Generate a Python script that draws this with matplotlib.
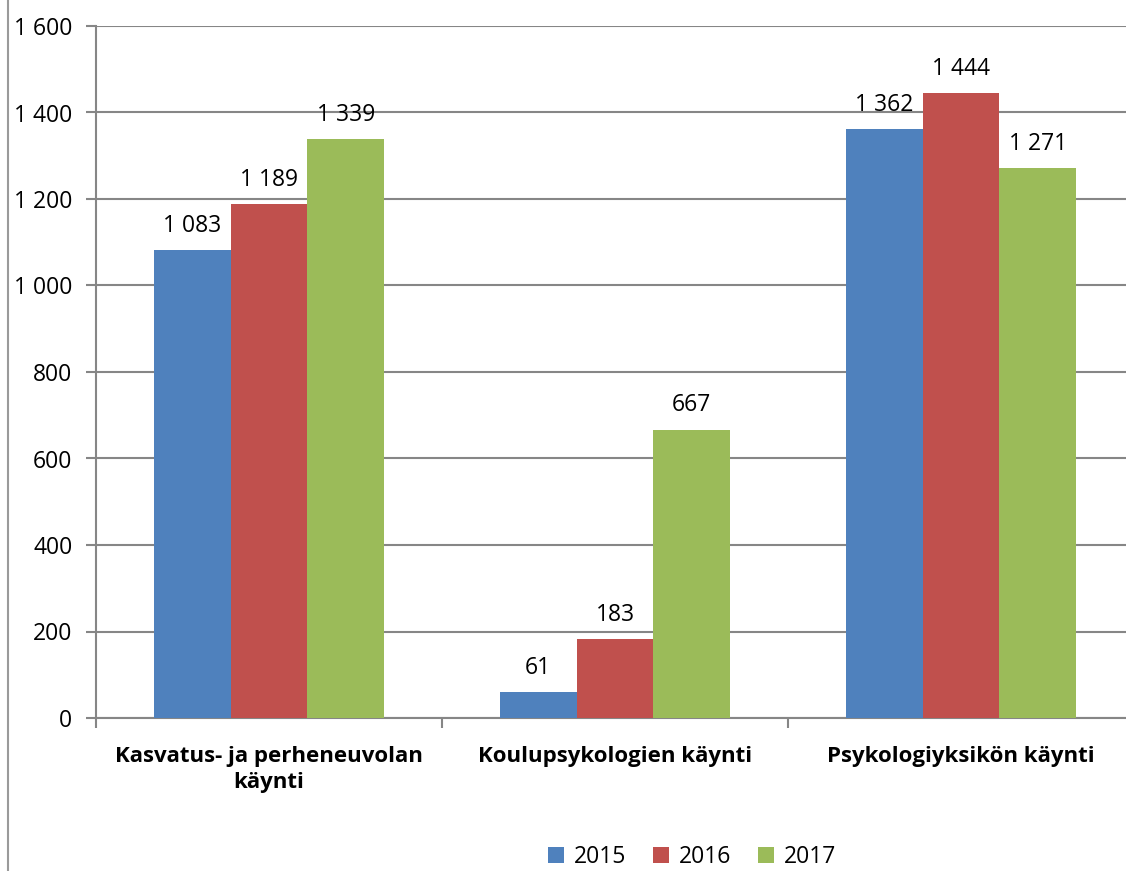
import numpy as np
import matplotlib.pyplot as plt
from matplotlib.lines import Line2D

plt.rcParams['font.family'] = ['Open Sans', 'DejaVu Sans']

categories = ['Kasvatus- ja perheneuvolan\nkäynti', 'Koulupsykologien käynti', 'Psykologiyksikön käynti']
years = ['2015', '2016', '2017']
v2015 = [1083, 61, 1362]
v2016 = [1189, 183, 1444]
v2017 = [1339, 667, 1271]
colors = ['#4F81BD', '#C0504D', '#9BBB59']
yticks = [0, 200, 400, 600, 800, 1000, 1200, 1400, 1600]

def fmt(v):
    return f'{v:,}'.replace(',', ' ')

fig = plt.figure(figsize=(11.26, 8.71), dpi=100)
ax = fig.add_axes([96 / 1126, (871 - 718) / 871, 1038 / 1126, (718 - 26) / 871])

x = np.arange(len(categories))
w = 0.222
grid_c = '#868686'
fs = 16.5
for i, (vals, yr) in enumerate(zip([v2015, v2016, v2017], years)):
    pos = x + (i - 1) * w
    ax.bar(pos, vals, width=w, color=colors[i], label=yr, zorder=3)
    for px, v in zip(pos, vals):
        ax.annotate(fmt(v), (px, v), xytext=(0, 13), textcoords='offset points',
                    ha='center', va='baseline', fontsize=fs, zorder=4)

ax.set_xlim(-0.5, 2.5)
ax.set_ylim(0, 1600)
ax.set_yticks(yticks)
ax.set_yticklabels([fmt(t) for t in yticks], fontsize=fs)
ax.yaxis.grid(True, color=grid_c, linewidth=1.5, zorder=0)
ax.tick_params(axis='y', length=7, width=1.5, color=grid_c, pad=10)

ax.set_xticks(x)
ax.set_xticklabels(categories, fontsize=16, fontweight='bold', linespacing=1.35)
ax.set_xticks([-0.5, 0.5, 1.5, 2.5], minor=True)
ax.tick_params(axis='x', which='major', length=0, pad=20)
ax.tick_params(axis='x', which='minor', length=7, width=1.5, color=grid_c)

for s in ['top', 'right']:
    ax.spines[s].set_visible(False)
for s in ['left', 'bottom']:
    ax.spines[s].set_color(grid_c)
    ax.spines[s].set_linewidth(1.5)

# chart area border on the left
fig.add_artist(Line2D([8 / 1126, 8 / 1126], [0, 1], color='#9a9a9a', linewidth=1.5))

handles, labels = ax.get_legend_handles_labels()
fig.legend(handles, labels, loc='center', bbox_to_anchor=(692 / 1126, (871 - 857) / 871),
           ncol=3, frameon=False, fontsize=fs, handlelength=0.7, handleheight=0.7,
           handletextpad=0.4, columnspacing=1.2)

fig.savefig('out.png', dpi=100)
